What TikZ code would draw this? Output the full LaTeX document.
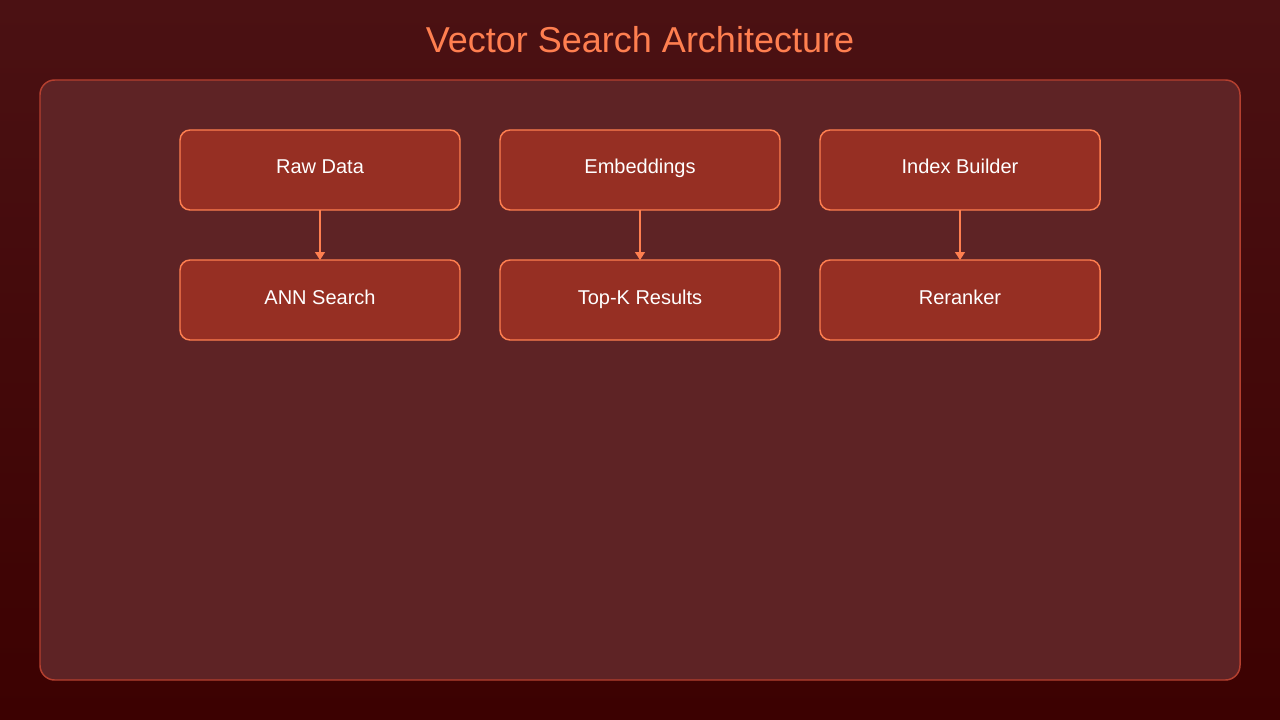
\documentclass[tikz,border=0pt]{standalone}
\usepackage{fontspec}
\setmainfont{Liberation Sans}
\usetikzlibrary{positioning,arrows.meta}
\definecolor{bgtop}{HTML}{4B1113}
\definecolor{bgbot}{HTML}{3C0101}
\definecolor{panelfill}{HTML}{5E2325}
\definecolor{paneldraw}{HTML}{B5402F}
\definecolor{boxfill}{HTML}{962F23}
\definecolor{coral}{HTML}{FF7F50}

\begin{document}
\begin{tikzpicture}[x=0.75pt,y=-0.75pt,>={Triangle[length=6pt,width=7.5pt]}]
	\tikzstyle{block} = [draw=coral, fill=boxfill, shape=rectangle, rounded corners=7.5pt, minimum height=60pt, minimum width=210pt, line width=1.1pt, outer sep=0pt, text=white, text height=10pt, text depth=4pt, font=\fontsize{15}{18}\selectfont]
	\tikzstyle{panel} = [draw=paneldraw, fill=panelfill, rounded corners=11pt, line width=1.1pt]
	%Background and Panel
	\shade[top color=bgtop, bottom color=bgbot] (0,0) rectangle (1280,720);
	\useasboundingbox (0,0) rectangle (1280,720);
	\draw[panel] (40,80) rectangle (1240,680);
	\node[text=coral, font=\fontsize{27}{32}\selectfont] (title) at (640,40) {Vector Search Architecture};
	%Creating Blocks
	\node [block] at (320,170) (raw) {Raw Data};
	\node [block] at (640,170) (emb) {Embeddings};
	\node [block] at (960,170) (index) {Index Builder};
	\node [block] at (320,300) (ann) {ANN Search};
	\node [block] at (640,300) (topk) {Top-K Results};
	\node [block] at (960,300) (rerank) {Reranker};
	%Conecting Blocks
	\begin{scope}[line width=1.1pt, draw=coral, color=coral]
	\draw[->] (raw) -- (ann);
	\draw[->] (emb) -- (topk);
	\draw[->] (index) -- (rerank);
	\end{scope}
\end{tikzpicture}
\end{document}
